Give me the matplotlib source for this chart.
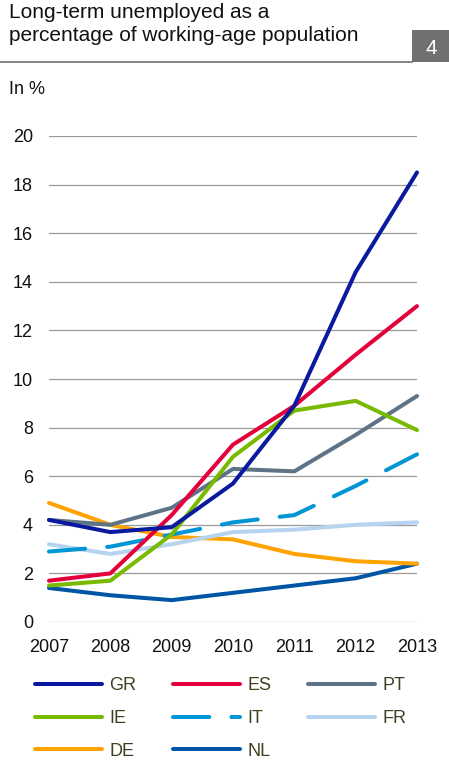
import numpy as np
import matplotlib
matplotlib.use('Agg')
import matplotlib.pyplot as plt

plt.rcParams['font.family'] = ['Liberation Sans', 'DejaVu Sans']

years = [2007, 2008, 2009, 2010, 2011, 2012, 2013]
gr = [4.2, 3.7, 3.9, 5.7, 8.9, 14.4, 18.5]
es = [1.7, 2.0, 4.4, 7.3, 8.9, 11.0, 13.0]
pt = [4.2, 4.0, 4.7, 6.3, 6.2, 7.7, 9.3]
ie = [1.5, 1.7, 3.6, 6.8, 8.7, 9.1, 7.9]
it = [2.9, 3.1, 3.6, 4.1, 4.4, 5.6, 6.9]
fr = [3.2, 2.8, 3.2, 3.7, 3.8, 4.0, 4.1]
de = [4.9, 4.0, 3.5, 3.4, 2.8, 2.5, 2.4]
nl = [1.4, 1.1, 0.9, 1.2, 1.5, 1.8, 2.4]

yticks = [0, 2, 4, 6, 8, 10, 12, 14, 16, 18, 20]

# drawing order roughly as in the original (last drawn on top)
series = [
    ('NL', nl, '#0055A5', None),
    ('DE', de, '#FFA300', None),
    ('FR', fr, '#B6D3F0', None),
    ('IT', it, '#0096D6', (0, (9, 5.5))),
    ('PT', pt, '#5E7386', None),
    ('IE', ie, '#78BA00', None),
    ('ES', es, '#E4003A', None),
    ('GR', gr, '#0A1AA0', None),
]

fig = plt.figure(figsize=(4.49, 7.62), dpi=100)
W, H = 449, 762
ax = fig.add_axes([49 / W, 1 - 622 / H, (417 - 49) / W, (622 - 136) / H])

lines = {}
for name, vals, col, ls in series:
    kw = dict(color=col, lw=2.9, solid_capstyle='round', dash_capstyle='round',
              solid_joinstyle='round', zorder=3, clip_on=False)
    if ls is not None:
        kw['linestyle'] = ls
    ln, = ax.plot(years, vals, label=name, **kw)
    lines[name] = ln

ax.set_xlim(2007, 2013)
ax.set_ylim(0, 20)
ax.set_yticks(yticks)
ax.set_xticks(years)
for y in yticks:
    ax.axhline(y, color='#9a9a9a', lw=0.9, zorder=1)
for s in ax.spines.values():
    s.set_visible(False)
ax.tick_params(length=0, labelsize=13, colors='#111111')
ax.tick_params(axis='y', pad=11.5)
ax.tick_params(axis='x', pad=12)

# title block
fig.text(9 / W, 1 - 18 / H, 'Long-term unemployed as a', fontsize=15, va='baseline',
         color='#111111')
fig.text(9 / W, 1 - 41 / H, 'percentage of working-age population', fontsize=15,
         va='baseline', color='#111111')
fig.add_artist(plt.Line2D([0, 412 / W], [1 - 62 / H, 1 - 62 / H], color='#707070', lw=1.2))
fig.add_artist(plt.Rectangle((412 / W, 1 - 62 / H), 37 / W, 32 / H, color='#707070', lw=0))
fig.text(431 / W, 1 - 54 / H, '4', fontsize=15, color='white', ha='center', va='baseline')
fig.text(9 / W, 1 - 94 / H, 'In %', fontsize=13, va='baseline', color='#111111')

order = ['GR', 'IE', 'DE', 'ES', 'IT', 'NL', 'PT', 'FR']
leg = fig.legend([lines[n] for n in order], order, ncol=3, loc='upper left',
                 bbox_to_anchor=(35 / W, 1 - 677 / H), frameon=False, fontsize=13,
                 handlelength=3.7, handletextpad=0.4, columnspacing=2.05,
                 labelspacing=0.88, borderpad=0, borderaxespad=0,
                 labelcolor='#404020')

fig.savefig('out.png', dpi=100)
